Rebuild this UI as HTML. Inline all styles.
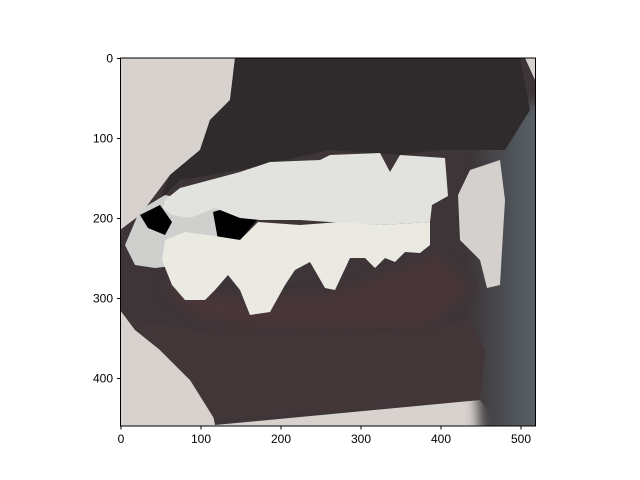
<!DOCTYPE html>
<html><head><meta charset="utf-8"><style>
html,body{margin:0;padding:0;background:#fff;width:640px;height:480px;overflow:hidden}
text{font-family:"Liberation Sans","DejaVu Sans",sans-serif;font-size:12px;fill:#000}
</style></head><body>
<svg width="640" height="480">
<defs><clipPath id="ax"><rect x="120.5" y="58" width="415" height="368"/></clipPath>
<linearGradient id="rg" x1="0" x2="1"><stop offset="0" stop-color="#3d3537"/><stop offset="0.6" stop-color="#4f555b"/><stop offset="1" stop-color="#5e666c"/></linearGradient>
<filter id="bl"><feGaussianBlur stdDeviation="6"/></filter></defs>
<g clip-path="url(#ax)">
<rect x="120" y="58" width="416" height="368" fill="#d8d2ce"/>
<polygon fill="#3d3537" points="235,58 525,58 535,80 536,426 500,426 480,400 215,425 210,400 190,380 160,350 135,330 120,310 120,230 140,215 155,195 170,175 200,150 210,120 230,100"/>
<polygon fill="url(#rg)" filter="url(#bl)" points="480,120 545,100 545,440 480,440 470,300"/>
<polygon fill="#2f2a2c" points="235,58 520,58 530,110 505,150 440,150 400,155 330,150 240,170 180,180 160,200 170,175 200,150 210,120 230,100"/>
<polygon fill="#433638" points="130,320 200,330 300,335 420,330 470,320 485,350 480,400 215,420 190,380 160,350"/>
<polygon fill="#4a3439" filter="url(#bl)" points="160,285 250,300 330,295 440,255 470,290 430,325 300,330 200,320"/>
<polygon fill="#d4d0cd" points="458,195 470,170 500,160 505,200 502,250 500,285 487,288 480,260 460,240"/>
<polygon fill="#cfcfcd" points="125,245 140,210 165,195 215,205 240,230 180,265 155,268 135,265"/>
<polygon fill="#000" points="140,215 160,205 172,222 165,235 148,228"/>
<polygon fill="#000" points="213,212 240,204 257,220 240,240 218,240"/>
<polygon fill="#e2e2de" points="165,200 180,188 240,172 270,162 320,160 330,155 380,153 390,172 400,155 445,158 448,196 432,205 430,222 380,225 330,222 300,220 260,220 240,218 215,208 190,218 172,215 163,208"/>
<polygon fill="#eae9e2" points="165,240 185,232 215,236 240,240 258,222 300,225 340,222 380,225 430,222 430,245 420,253 405,252 395,262 385,258 375,268 365,258 350,258 335,290 325,288 310,262 295,270 285,285 270,312 250,315 240,290 228,275 215,290 205,300 185,300 172,285 162,260"/>
</g>
<rect x="120.5" y="58" width="415" height="368" fill="none" stroke="#000" stroke-width="1"/>
<g id="ticks"></g>
<script>
const xTicks=[0,100,200,300,400,500];
const yTicks=[0,100,200,300,400];
const x0=121,y0=58,s=0.8;
const g=document.getElementById('ticks');
const NS='http://www.w3.org/2000/svg';
xTicks.forEach(v=>{const x=x0+v*s;
 const l=document.createElementNS(NS,'line');l.setAttribute('x1',x);l.setAttribute('x2',x);l.setAttribute('y1',426);l.setAttribute('y2',429.5);l.setAttribute('stroke','#000');
 
 g.appendChild(l);
 const t=document.createElementNS(NS,'text');t.setAttribute('x',x);t.setAttribute('y',443);t.setAttribute('text-anchor','middle');t.textContent=v;
 
 g.appendChild(t);});
yTicks.forEach(v=>{const y=y0+0.5+v*s;
 const l=document.createElementNS(NS,'line');l.setAttribute('x1',117);l.setAttribute('x2',120.5);l.setAttribute('y1',y);l.setAttribute('y2',y);l.setAttribute('stroke','#000');
 
 g.appendChild(l);
 const t=document.createElementNS(NS,'text');t.setAttribute('x',113);t.setAttribute('y',y+4);t.setAttribute('text-anchor','end');t.textContent=v;
 
 g.appendChild(t);});
</script>
</svg>
</body></html>
